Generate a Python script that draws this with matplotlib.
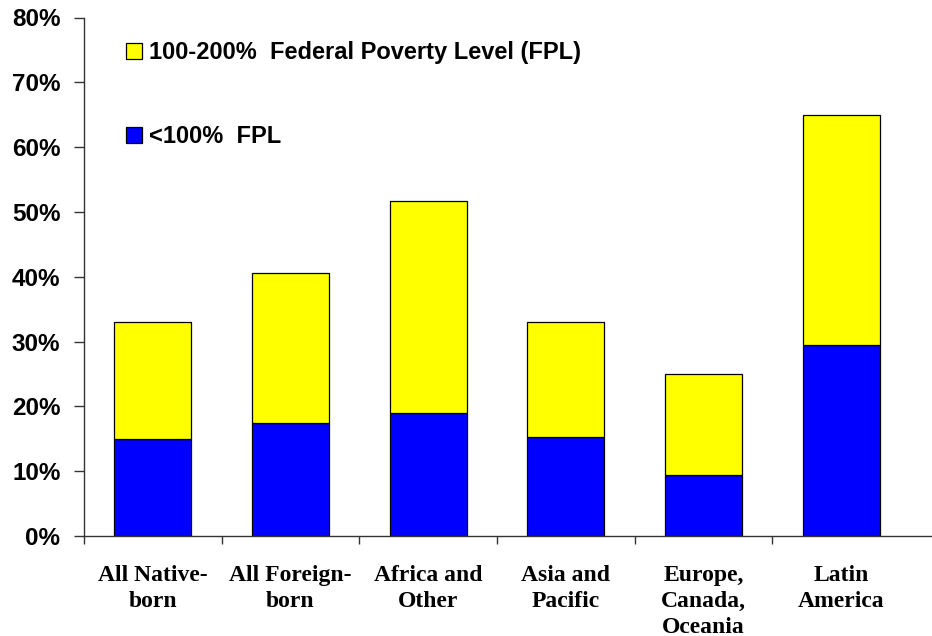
import matplotlib
matplotlib.use('Agg')
import matplotlib.pyplot as plt
from matplotlib.patches import Patch
import numpy as np

# data (percent of group)
categories = ['All Native-\nborn', 'All Foreign-\nborn', 'Africa and\nOther',
              'Asia and\nPacific', 'Europe,\nCanada,\nOceania', 'Latin\nAmerica']
below_100 = [15.0, 17.5, 19.0, 15.2, 9.4, 29.5]      # <100% FPL
fpl_100_200 = [18.0, 23.1, 32.7, 17.8, 15.6, 35.5]   # 100-200% FPL
y_ticks = [0, 10, 20, 30, 40, 50, 60, 70, 80]
legend_labels = ['100-200%  Federal Poverty Level (FPL)', '<100%  FPL']

SANS = 'Liberation Sans'
SERIF = 'Liberation Serif'

fig = plt.figure(figsize=(9.32, 6.36), dpi=100)
ax = fig.add_axes([84 / 932, 100 / 636, 848 / 932, 518.5 / 636])

x = np.arange(len(categories))
w = 0.56
ax.bar(x, below_100, w, color='#0000ff', edgecolor='black', linewidth=0.9)
ax.bar(x, fpl_100_200, w, bottom=below_100, color='#ffff00',
       edgecolor='black', linewidth=0.9)

# axis runs a bit past the last category, as in the original
ax.set_xlim(-0.5, 5.66)
ax.set_ylim(0, 80)

# y axis
ax.set_yticks(y_ticks)
ax.set_yticklabels([f'{v}%' for v in y_ticks], fontfamily=SANS,
                   fontweight='bold', fontsize=17.5)
ax.tick_params(axis='y', length=7, width=1, pad=10, colors='#333333',
               labelcolor='black')

# x axis: ticks on category borders, labels centered
ax.set_xticks(np.arange(len(categories)) - 0.5)
ax.set_xticklabels([])
ax.tick_params(axis='x', which='major', length=6, width=1, colors='#333333')
ax.set_xticks(x, minor=True)
ax.set_xticklabels(categories, minor=True, fontfamily=SERIF,
                   fontweight='bold', fontsize=17, linespacing=1.3)
ax.tick_params(axis='x', which='minor', length=0, pad=21)

for s in ['top', 'right']:
    ax.spines[s].set_visible(False)
for s in ['left', 'bottom']:
    ax.spines[s].set_color('#333333')
    ax.spines[s].set_linewidth(1)

handles = [Patch(facecolor='#ffff00', edgecolor='black', linewidth=0.9),
           Patch(facecolor='#0000ff', edgecolor='black', linewidth=0.9)]
fig.legend(handles, legend_labels, loc='upper left',
           bbox_to_anchor=(126 / 932, 1 - 41 / 636), frameon=False,
           prop={'family': SANS, 'weight': 'bold', 'size': 17},
           borderpad=0, borderaxespad=0, handlelength=0.68,
           handleheight=0.68, handletextpad=0.3, labelspacing=2.58)

fig.savefig('out.png', dpi=100)
